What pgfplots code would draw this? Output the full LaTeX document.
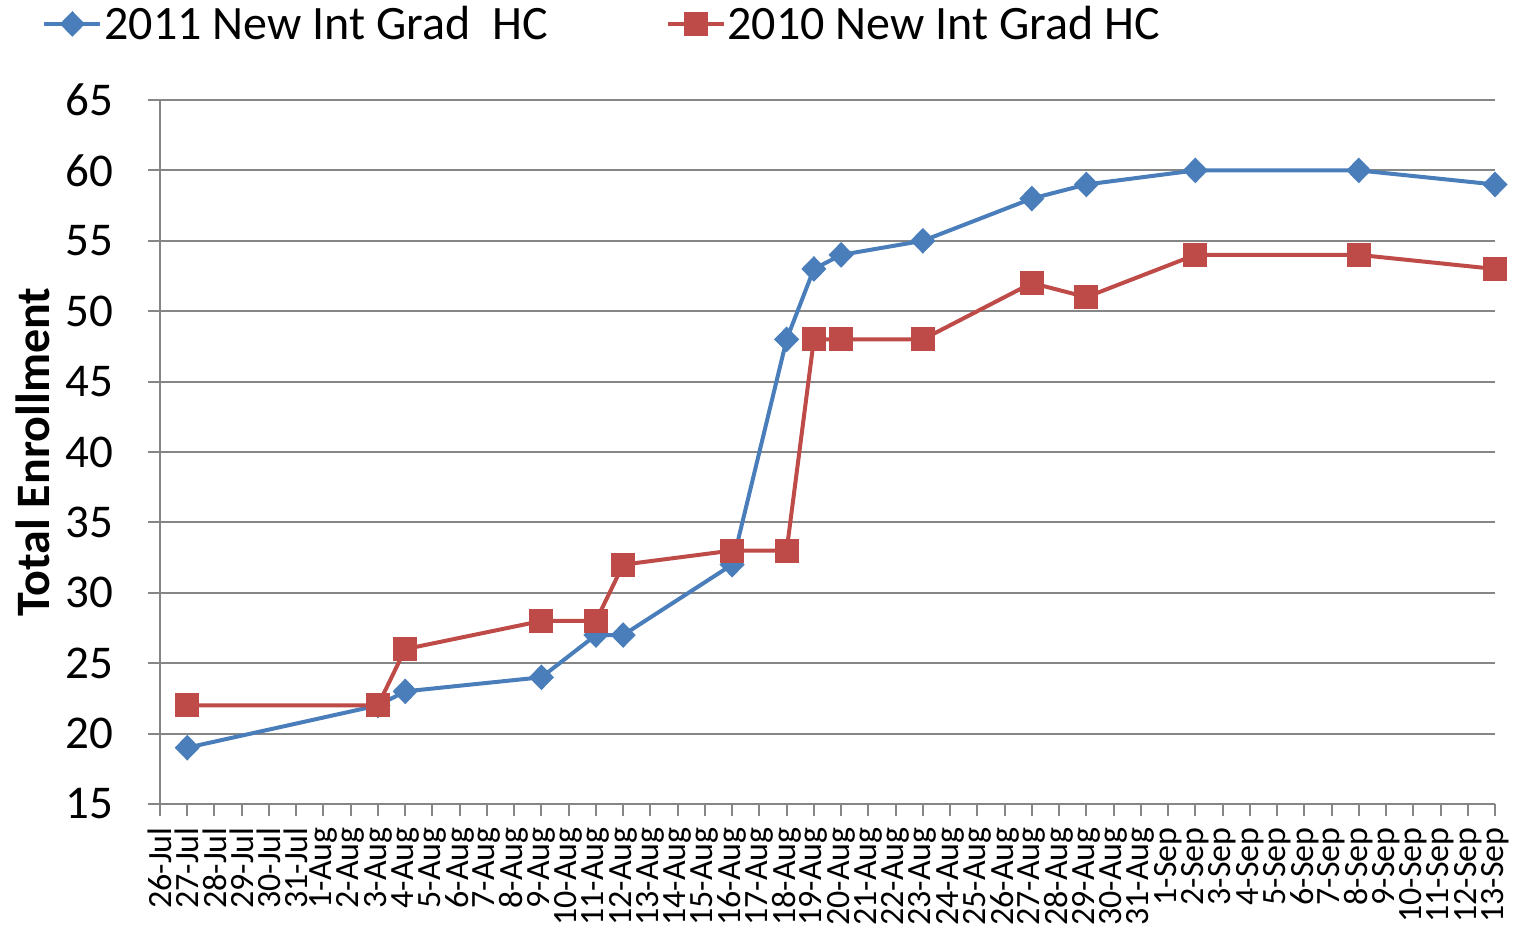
\documentclass[border=0pt]{standalone}
\usepackage{fontspec}
\setmainfont{Carlito}
\usepackage{pgfplots}
\pgfplotsset{compat=1.18}
\definecolor{blueline}{HTML}{4A7EBB}
\definecolor{redline}{HTML}{BE4B48}
\definecolor{gridgray}{HTML}{868686}

\begin{document}
\begin{tikzpicture}
\begin{axis}[
  scale only axis,
  width=667.5pt, height=352pt,
  xmin=0, xmax=49, ymin=15, ymax=65,
  ytick={15,20,...,65},
  xtick={0,...,49},
  xticklabels={26-Jul,27-Jul,28-Jul,29-Jul,30-Jul,31-Jul,
    1-Aug,2-Aug,3-Aug,4-Aug,5-Aug,6-Aug,7-Aug,8-Aug,9-Aug,10-Aug,
    11-Aug,12-Aug,13-Aug,14-Aug,15-Aug,16-Aug,17-Aug,18-Aug,19-Aug,20-Aug,
    21-Aug,22-Aug,23-Aug,24-Aug,25-Aug,26-Aug,27-Aug,28-Aug,29-Aug,30-Aug,31-Aug,
    1-Sep,2-Sep,3-Sep,4-Sep,5-Sep,6-Sep,7-Sep,8-Sep,9-Sep,10-Sep,11-Sep,12-Sep,13-Sep},
  x tick label style={rotate=90, anchor=east,
    font=\fontsize{17}{17}\selectfont, inner xsep=5.5pt, inner ysep=0pt},
  y tick label style={font=\fontsize{23.5}{23.5}\selectfont, xshift=-14pt},
  /pgf/number format/assume math mode=true,
  axis x line*=bottom, axis y line*=left,
  axis line style={gridgray, line width=1pt},
  tick align=outside,
  major tick length=6pt,
  tick style={gridgray, line width=1pt},
  ymajorgrids,
  grid style={gridgray, line width=1pt},
  ylabel={\bfseries Total Enrollment},
  ylabel style={at={(axis description cs:-0.0951,0.5)}, anchor=center, font=\fontsize{24}{24}\selectfont},
  clip=false,
  legend columns=2,
  legend style={draw=none, fill=none, inner sep=0pt,
    at={(axis description cs:-0.0884,1.108)}, anchor=west,
    font=\fontsize{24}{24}\selectfont,
    nodes={inner xsep=1pt},
    /tikz/every even column/.append style={column sep=58pt}},
  legend image code/.code={\draw[mark repeat=2,mark phase=2,#1]
    plot coordinates {(0pt,0pt) (14pt,0pt) (28pt,0pt)};},
]
\addplot[blueline, line width=2pt, mark=diamond*, mark size=5pt,
  mark options={xscale=1.3, solid, fill=blueline, draw=blueline}]
  coordinates {(1,19) (8,22) (9,23) (14,24) (16,27) (17,27) (21,32) (23,48)
    (24,53) (25,54) (28,55) (32,58) (34,59) (38,60) (44,60) (49,59)};
\addlegendentry{2011 New Int Grad\ \ HC}
\addplot[redline, line width=2pt, mark=square*, mark size=5pt,
  mark options={solid, fill=redline, draw=redline}]
  coordinates {(1,22) (8,22) (9,26) (14,28) (16,28) (17,32) (21,33) (23,33)
    (24,48) (25,48) (28,48) (32,52) (34,51) (38,54) (44,54) (49,53)};
\addlegendentry{2010 New Int Grad HC}
\coordinate (bl) at (rel axis cs:0,0);
\coordinate (tr) at (rel axis cs:1,1);
\end{axis}
\pgfresetboundingbox
\path ([shift={(-80pt,-66.5pt)}]bl) rectangle ([shift={(12pt,50pt)}]tr);
\end{tikzpicture}
\end{document}
